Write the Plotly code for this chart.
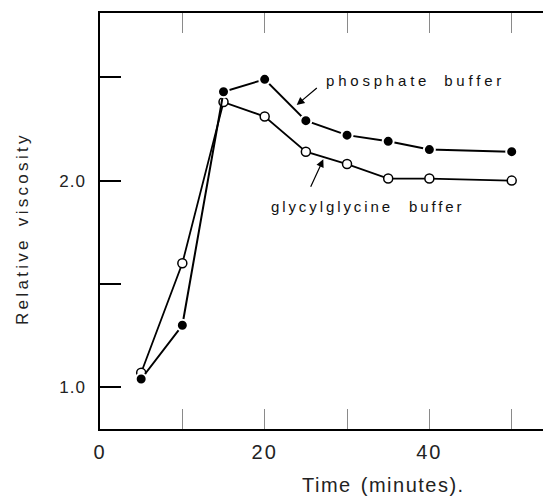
import plotly.graph_objects as go

# ---- data ----
time_min = [5, 10, 15, 20, 25, 30, 35, 40, 50]
phosphate = [1.04, 1.30, 2.43, 2.49, 2.29, 2.22, 2.19, 2.15, 2.14]
glycylglycine = [1.07, 1.60, 2.38, 2.31, 2.14, 2.08, 2.01, 2.01, 2.00]

x_tickvals = [0, 10, 20, 30, 40, 50]
x_ticktext = ["0", "", "20", "", "40", ""]
y_tickvals = [1.0, 1.5, 2.0, 2.5]
y_ticktext = ["1.0", "", "2.0", ""]

x_range = [0, 53.8]
y_range = [0.798, 2.811]

FONT = "Liberation Sans, Arial, sans-serif"


def spaced(t, ls, ws=0):
    return f'<span style="letter-spacing:{ls}px;word-spacing:{ws}px">{t}</span>'


fig = go.Figure()

fig.add_trace(go.Scatter(
    x=time_min, y=glycylglycine, mode="lines+markers",
    name="glycylglycine buffer",
    line=dict(color="black", width=1.8),
    marker=dict(symbol="circle", size=9, color="white",
                line=dict(color="black", width=1.5)),
))
fig.add_trace(go.Scatter(
    x=time_min, y=phosphate, mode="lines+markers",
    name="phosphate buffer",
    line=dict(color="black", width=2),
    marker=dict(symbol="circle", size=11, color="black",
                line=dict(color="white", width=2)),
))

fig.update_layout(
    template="none",
    width=543, height=497,
    margin=dict(l=100, r=0, t=13, b=68, pad=0, autoexpand=False),
    paper_bgcolor="white", plot_bgcolor="white",
    showlegend=False,
    font=dict(family=FONT, color="black"),
    xaxis=dict(range=x_range, tickvals=x_tickvals,
               ticktext=[spaced(t, 2) for t in x_ticktext],
               ticks="inside", ticklen=20, tickwidth=1, tickcolor="#8a8a8a",
               showline=True, linecolor="black", linewidth=2, mirror="ticks",
               showgrid=False, zeroline=False, automargin=False,
               tickfont=dict(size=20, family=FONT, color="#222"),
               ticklabelstandoff=4),
    yaxis=dict(range=y_range, tickvals=y_tickvals,
               ticktext=[spaced(t, 1) for t in y_ticktext],
               ticks="inside", ticklen=21, tickwidth=1.5, tickcolor="black",
               showline=True, linecolor="black", linewidth=1.5,
               showgrid=False, zeroline=False, automargin=False,
               tickfont=dict(size=17, family=FONT, color="#222"),
               ticklabelstandoff=9),
    # helper axis carrying the short right-hand inner ticks
    yaxis2=dict(overlaying="y", side="right", anchor="x", range=y_range,
                tickvals=y_tickvals, ticks="inside", ticklen=9,
                tickwidth=1.3, tickcolor="black", showticklabels=False,
                showline=False, showgrid=False, zeroline=False,
                automargin=False),
)

annotations = [
    # axis titles
    dict(text=spaced("Time (minutes).", 1.5, 2), xref="paper", yref="paper",
         x=0.641, y=-0.1346, xanchor="center", yanchor="middle",
         showarrow=False, font=dict(size=20, family=FONT, color="#222")),
    dict(text=spaced("Relative viscosity", 3.3, 3), xref="paper", yref="paper",
         x=-0.1738, y=0.4808, xanchor="center", yanchor="middle",
         textangle=-90, showarrow=False,
         font=dict(size=17, family=FONT, color="#222")),
    # series labels
    dict(text=spaced("phosphate buffer", 3.8, 6), xref="x", yref="y",
         x=27.2, y=2.482, xanchor="left", yanchor="middle",
         showarrow=False, font=dict(size=15, family=FONT, color="#111")),
    dict(text=spaced("glycylglycine buffer", 2.9, 9), xref="x", yref="y",
         x=20.56, y=1.877, xanchor="left", yanchor="middle",
         showarrow=False, font=dict(size=15, family=FONT, color="#111")),
    # arrows
    dict(text="", xref="x", yref="y", x=23.89, y=2.366, ax=21.6, ay=-18.3,
         showarrow=True, arrowhead=2, arrowsize=1.3, arrowwidth=1.2,
         arrowcolor="black", standoff=0),
    dict(text="", xref="x", yref="y", x=27.12, y=2.103, ax=-13.3, ay=29,
         showarrow=True, arrowhead=2, arrowsize=1.3, arrowwidth=1.2,
         arrowcolor="black", standoff=0),
]
fig.update_layout(annotations=annotations)

fig.write_html("out.html")
